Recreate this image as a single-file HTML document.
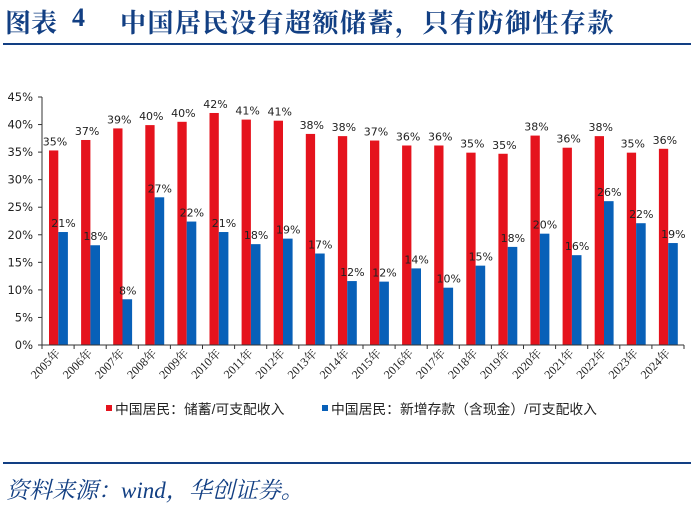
<!DOCTYPE html>
<html><head><meta charset="utf-8"><style>
html,body{margin:0;padding:0;background:#fff;}
body{width:693px;height:514px;position:relative;overflow:hidden;font-family:"Liberation Sans","Noto Sans CJK SC",sans-serif;}
.tt{position:absolute;top:3px;font-family:'Liberation Serif','Noto Serif CJK SC',serif;font-weight:bold;font-size:26px;color:#123f83;white-space:nowrap;}
</style></head><body>
<div>
<span class="tt" style="left:5px;letter-spacing:0px;">图表</span>
<span class="tt" style="left:72px;">4</span>
<span class="tt" style="left:120px;letter-spacing:1.5px;">中国居民没有超额储蓄，只有防御性存款</span>
</div>
<div style="position:absolute;left:3px;top:43px;width:688px;height:2px;background:#123f83;"></div>
<svg id="chart" width="693" height="460" style="position:absolute;left:0;top:0;"></svg>
<div style="position:absolute;left:3px;top:462px;width:688px;height:2px;background:#123f83;"></div>
<div style="position:absolute;left:6px;top:472px;font-family:'Liberation Serif','Noto Serif CJK SC',serif;font-style:italic;font-size:23px;color:#123f83;white-space:nowrap;">资料来源：wind，华创证券。</div>
<script>
const categories=["2005年","2006年","2007年","2008年","2009年","2010年","2011年","2012年","2013年","2014年","2015年","2016年","2017年","2018年","2019年","2020年","2021年","2022年","2023年","2024年"];
const savingsValues=[35.3,37.2,39.3,39.9,40.5,42.1,40.9,40.7,38.3,37.9,37.1,36.2,36.2,34.9,34.7,38.0,35.8,37.9,34.9,35.6];
const savingsLabels=["35%","37%","39%","40%","40%","42%","41%","41%","38%","38%","37%","36%","36%","35%","35%","38%","36%","38%","35%","36%"];
const depositValues=[20.5,18.1,8.3,26.8,22.4,20.5,18.3,19.3,16.6,11.6,11.5,13.9,10.4,14.4,17.8,20.2,16.3,26.1,22.1,18.5];
const depositLabels=["21%","18%","8%","27%","22%","21%","18%","19%","17%","12%","12%","14%","10%","15%","18%","20%","16%","26%","22%","19%"];
const yTicks=[0,5,10,15,20,25,30,35,40,45];
const legendNames=["中国居民：储蓄/可支配收入","中国居民：新增存款（含现金）/可支配收入"];

const NS="http://www.w3.org/2000/svg";
const svg=document.getElementById('chart');
const x0=42,x1=684,y0=345,yTop=97,ymax=45;
const bw=(x1-x0)/categories.length;
function yScale(v){return y0-(v/ymax)*(y0-yTop);}
function xCat(i){return x0+i*bw;}
function mk(tag,attrs){const e=document.createElementNS(NS,tag);for(const k in attrs)e.setAttribute(k,attrs[k]);svg.appendChild(e);return e;}

yTicks.forEach(t=>{
  const y=yScale(t);
  const tk=mk('line',{x1:x0-4,x2:x0,y1:y,y2:y,stroke:'#333','stroke-width':1});
  
  
  const lb=mk('text',{x:x0-9,y:y+4,'text-anchor':'end','font-size':11.5,fill:'#222','font-family':'DejaVu Sans,sans-serif'});
  lb.textContent=t+'%';
  
  
});
const ya=mk('line',{x1:x0,x2:x0,y1:yTop,y2:y0,stroke:'#333','stroke-width':1});



categories.forEach((c,i)=>{
  const cx=xCat(i);
  const r=mk('rect',{x:cx+7,y:yScale(savingsValues[i]),width:9.3,height:y0-yScale(savingsValues[i]),fill:'#e5131d'});
  
  
  const b=mk('rect',{x:cx+16.3,y:yScale(depositValues[i]),width:9.6,height:y0-yScale(depositValues[i]),fill:'#0860b8'});
  
  
  const rl=mk('text',{x:cx+13,y:yScale(savingsValues[i])-5,'text-anchor':'middle','font-size':11,fill:'#222','font-family':'DejaVu Sans,sans-serif'});
  rl.textContent=savingsLabels[i];
  
  
  const bl=mk('text',{x:cx+21.5,y:yScale(depositValues[i])-5,'text-anchor':'middle','font-size':11,fill:'#222','font-family':'DejaVu Sans,sans-serif'});
  bl.textContent=depositLabels[i];
  
  
  const tk=mk('line',{x1:cx,x2:cx,y1:y0,y2:y0+4,stroke:'#333','stroke-width':1});
  
  
  const xl=mk('text',{x:cx+bw/2+3,y:y0+9,'text-anchor':'end','font-size':12,fill:'#222','font-family':'Liberation Serif,Noto Serif CJK SC,serif',transform:`rotate(-45 ${cx+bw/2+3} ${y0+9})`});
  xl.textContent=c;
  
  
});
const lt=mk('line',{x1:x1,x2:x1,y1:y0,y2:y0+4,stroke:'#333','stroke-width':1});
const xa=mk('line',{x1:x0,x2:x1,y1:y0,y2:y0,stroke:'#333','stroke-width':1});



const legX=[106,322],legC=['#e5131d','#0860b8'];
legendNames.forEach((n,i)=>{
  const s=mk('rect',{x:legX[i],y:405,width:6,height:6,fill:legC[i]});
  
  
  const t=mk('text',{x:legX[i]+9,y:414,'font-size':13.8,fill:'#222','font-family':'Liberation Sans,Noto Sans CJK SC,sans-serif'});
  t.textContent=n;
  
  
});
</script>
</body></html>
